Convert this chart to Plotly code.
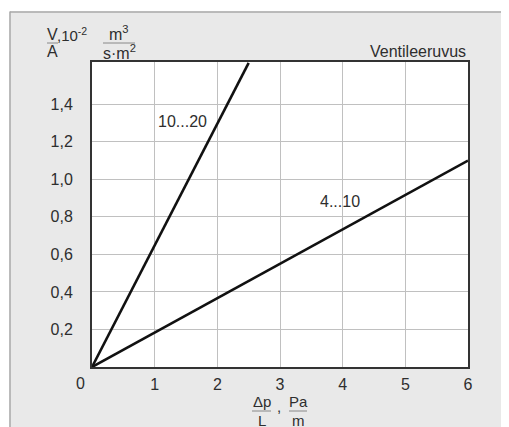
import plotly.graph_objects as go

# ---- data ----
x_ticks = [1, 2, 3, 4, 5, 6]
x_tick_labels = ["1", "2", "3", "4", "5", "6"]
y_ticks = [0.2, 0.4, 0.6, 0.8, 1.0, 1.2, 1.4]
y_tick_labels = ["0,2", "0,4", "0,6", "0,8", "1,0", "1,2", "1,4"]

line_10_20_x = [0, 2.5]
line_10_20_y = [0, 1.62]
line_4_10_x = [0, 6]
line_4_10_y = [0, 1.1]

OFF = 8  # page body margin
PAGE_W, PAGE_H = 509, 427
PLOT_L, PLOT_R, PLOT_T, PLOT_B = 92, 468, 62, 367  # plot area in page pixels
W, H = PAGE_W - 2 * OFF, PAGE_H - OFF
L, T = PLOT_L - OFF, PLOT_T - OFF
R, B = (OFF + W) - PLOT_R, (OFF + H) - PLOT_B
PW, PH = PLOT_R - PLOT_L, PLOT_B - PLOT_T


def X(px):
    return (px - PLOT_L) / PW


def Y(py):
    return (PLOT_B - py) / PH


FONT = "Liberation Sans, Arial, Helvetica, sans-serif"
TXT = "#2e2e2e"

fig = go.Figure()
fig.add_trace(go.Scatter(x=line_10_20_x, y=line_10_20_y, mode="lines",
                         line=dict(color="#111111", width=2.6), showlegend=False,
                         hoverinfo="skip"))
fig.add_trace(go.Scatter(x=line_4_10_x, y=line_4_10_y, mode="lines",
                         line=dict(color="#111111", width=2.6), showlegend=False,
                         hoverinfo="skip"))

shapes = [
    dict(type="rect", xref="paper", yref="paper", x0=X(-5), x1=X(9.5), y0=Y(440), y1=Y(-5),
         fillcolor="white", line=dict(width=0), layer="below"),
    dict(type="rect", xref="paper", yref="paper", x0=X(-5), x1=X(520), y0=Y(11.5), y1=Y(-5),
         fillcolor="white", line=dict(width=0), layer="below"),
    dict(type="line", xref="paper", yref="paper", x0=X(10), x1=X(10), y0=Y(440), y1=Y(11.5),
         line=dict(color="#a8a8a8", width=1.5)),
    dict(type="line", xref="paper", yref="paper", x0=X(10), x1=X(520), y0=Y(12), y1=Y(12),
         line=dict(color="#a8a8a8", width=1.5)),
    dict(type="line", xref="paper", yref="paper", x0=X(47), x1=X(58), y0=Y(43), y1=Y(43),
         line=dict(color="#888888", width=1)),
    dict(type="line", xref="paper", yref="paper", x0=X(103), x1=X(135), y0=Y(43), y1=Y(43),
         line=dict(color="#888888", width=1)),
    dict(type="line", xref="paper", yref="paper", x0=X(252), x1=X(271), y0=Y(411), y1=Y(411),
         line=dict(color="#888888", width=1)),
    dict(type="line", xref="paper", yref="paper", x0=X(289), x1=X(307), y0=Y(411), y1=Y(411),
         line=dict(color="#888888", width=1)),
]


def ann(text, px, py, xanchor="center", size=16):
    return dict(text=text, xref="paper", yref="paper", x=X(px), y=Y(py),
                xanchor=xanchor, yanchor="middle", showarrow=False,
                font=dict(family=FONT, size=size, color=TXT))


annotations = [
    ann("V", 52, 34),
    ann("A", 52, 52),
    ann(",10<sup>-2</sup>", 55, 34, xanchor="left", size=15),
    ann("m<sup>3</sup>", 119, 33),
    ann("s·m<sup>2</sup>", 119, 52),
    ann("Δp", 262, 402, size=15),
    ann("L", 262, 420, size=15),
    ann(",", 279, 406, size=15),
    ann("Pa", 298, 402, size=15),
    ann("m", 298, 420, size=15),
    ann("Ventileeruvus", 468, 51, xanchor="right", size=16),
    ann("0", 80, 383, size=16),
    dict(text="10...20", x=1.44, y=1.31, xref="x", yref="y", showarrow=False,
         font=dict(family=FONT, size=16, color=TXT)),
    dict(text="4...10", x=3.96, y=0.88, xref="x", yref="y", showarrow=False,
         font=dict(family=FONT, size=16, color=TXT)),
]

fig.update_layout(
    width=W, height=H,
    margin=dict(l=L, r=R, t=T, b=B, pad=0),
    paper_bgcolor="#e9e9e9",
    plot_bgcolor="white",
    showlegend=False,
    shapes=shapes,
    annotations=annotations,
    font=dict(family=FONT, size=16, color=TXT),
)
fig.update_xaxes(range=[0, 6], tickvals=x_ticks, ticktext=x_tick_labels,
                 showgrid=True, gridcolor="#c0c0c0", gridwidth=1.3,
                 showline=True, mirror=True, linecolor="#333333", linewidth=2,
                 ticks="outside", ticklen=2, tickcolor="rgba(0,0,0,0)",
                 zeroline=False, fixedrange=True,
                 tickfont=dict(family=FONT, size=16, color=TXT))
fig.update_yaxes(range=[0, 1.625], tickvals=y_ticks, ticktext=y_tick_labels,
                 showgrid=True, gridcolor="#c0c0c0", gridwidth=1.3,
                 showline=True, mirror=True, linecolor="#333333", linewidth=2,
                 ticks="outside", ticklen=14, tickcolor="rgba(0,0,0,0)",
                 zeroline=False, fixedrange=True,
                 tickfont=dict(family=FONT, size=16, color=TXT))

fig.write_html("out.html", config=dict(displayModeBar=False))
